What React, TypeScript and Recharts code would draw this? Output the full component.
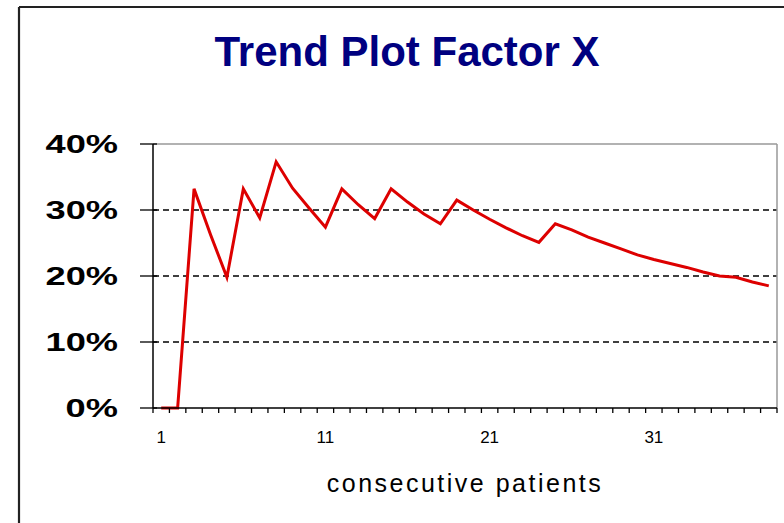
import React from 'react';
import { LineChart, Line, XAxis, YAxis, CartesianGrid, Label, ReferenceLine } from 'recharts';

// consecutive patient numbers
const patients = [
  1, 2, 3, 4, 5, 6, 7, 8, 9, 10, 11, 12, 13, 14, 15, 16, 17, 18, 19, 20,
  21, 22, 23, 24, 25, 26, 27, 28, 29, 30, 31, 32, 33, 34, 35, 36, 37, 38,
];
// Factor X trend (percent)
const factorX = [
  0, 0, 33.2, 26.3, 19.8, 33.2, 28.8, 37.3, 33.3, 30.3, 27.4, 33.2, 30.8, 28.7,
  33.2, 31.2, 29.4, 27.9, 31.5, 30.0, 28.6, 27.3, 26.1, 25.1, 27.9, 27.0, 25.9,
  25.0, 24.1, 23.2, 22.5, 21.9, 21.3, 20.6, 20.0, 19.8, 19.1, 18.5,
];
const yTicks = [0, 10, 20, 30, 40];
const gridValues = [10, 20, 30];
const xLabelTicks = [1, 11, 21, 31];

const title = 'Trend Plot Factor X';
const xTitle = 'consecutive patients';

const data = patients.map((p, i) => ({ patient: p, value: factorX[i] }));
const xMin = patients[0] - 0.5;
const xMax = patients[patients.length - 1] + 0.5;
const xDomain = [xMin, xMax];
const boundaryTicks = patients.map((p) => p - 0.5).concat([xMax]);

const FONT = '"Liberation Sans", Arial, sans-serif';

const YTick = (props: any) => {
  const { x, y, payload } = props;
  const tx = x - 20;
  return (
    <g>
      <line x1={x + 15} x2={x + 19} y1={y} y2={y} stroke="#000" strokeWidth={1.3} />
      <text
        transform={`translate(${tx},${y}) scale(1.45,1)`}
        textAnchor="end"
        dy="0.36em"
        fontSize={25}
        fontWeight="bold"
        fontFamily={FONT}
        fill="#000"
      >
        {`${payload.value}%`}
      </text>
    </g>
  );
};

const XTitle = (props: any) => {
  const vb = props.viewBox || {};
  return (
    <text
      x={vb.x + vb.width / 2}
      y={vb.y + 78}
      textAnchor="middle"
      fontSize={25}
      letterSpacing={2.5}
      fontFamily={FONT}
      fill="#000"
    >
      {xTitle}
    </text>
  );
};

export default function App() {
  return (
    <div style={{ position: 'absolute', left: 0, top: 0, width: 784, height: 523, background: '#fff' }}>
      <svg width={784} height={523} style={{ position: 'absolute', left: 0, top: 0 }}>
        <line x1={19} y1={7} x2={19} y2={523} stroke="#222" strokeWidth={2.2} />
        <line x1={19} y1={7} x2={784} y2={7} stroke="#222" strokeWidth={2.2} />
        <text
          x={407}
          y={66}
          textAnchor="middle"
          fontSize={42}
          fontWeight="bold"
          fontFamily={FONT}
          fill="#000080"
        >
          {title}
        </text>
      </svg>
      <div style={{ position: 'absolute', left: 0, top: 0 }}>
        <LineChart width={784} height={523} data={data} margin={{ top: 144, right: 7, bottom: 0, left: 0 }}>
          <CartesianGrid
            yAxisId="l"
            xAxisId="a_ticks"
            vertical={false}
            horizontalValues={gridValues}
            stroke="#000"
            strokeWidth={1.4}
            strokeDasharray="6 4"
          />
          <XAxis
            xAxisId="z_lab"
            dataKey="patient"
            type="number"
            domain={xDomain}
            ticks={xLabelTicks}
            interval={0}
            height={109}
            tickSize={0}
            tickMargin={17}
            axisLine={false}
            tickLine={false}
            tick={{ fill: '#000', fontSize: 17, fontFamily: FONT }}
          >
            <Label content={<XTitle />} />
          </XAxis>
          <XAxis
            xAxisId="a_ticks"
            dataKey="patient"
            type="number"
            domain={xDomain}
            ticks={boundaryTicks}
            interval={0}
            height={6}
            tickSize={5}
            tickFormatter={() => ''}
            tickLine={{ stroke: '#000', strokeWidth: 1.3 }}
            axisLine={{ stroke: '#000', strokeWidth: 1.5 }}
          />
          <YAxis
            yAxisId="l"
            domain={[0, 40]}
            ticks={yTicks}
            interval={0}
            width={153}
            tickSize={13}
            tickMargin={2}
            tick={<YTick />}
            tickLine={{ stroke: '#000', strokeWidth: 1.3 }}
            axisLine={{ stroke: '#000', strokeWidth: 1.5 }}
          />
          <ReferenceLine xAxisId="a_ticks" yAxisId="l" y={40} stroke="#999" strokeWidth={1.5} ifOverflow="visible" />
          <ReferenceLine xAxisId="a_ticks" yAxisId="l" x={xMax} stroke="#999" strokeWidth={1.5} ifOverflow="visible" />
          <Line
            xAxisId="a_ticks"
            yAxisId="l"
            type="linear"
            dataKey="value"
            stroke="#dd0000"
            strokeWidth={3}
            dot={false}
            isAnimationActive={false}
          />
        </LineChart>
      </div>
    </div>
  );
}
